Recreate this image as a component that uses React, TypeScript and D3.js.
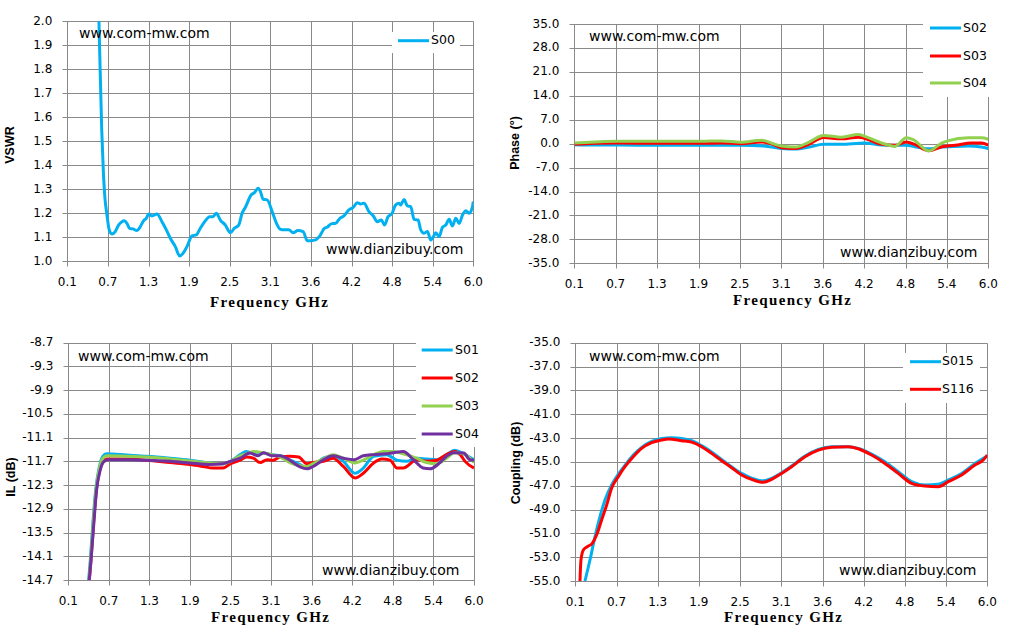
import { useRef, useEffect } from "react";
import * as d3 from "d3";

// x axis is shared by all four panels (10 equal steps from 0.1 to 6.0 GHz)
const freqTickLabels = ["0.1", "0.7", "1.3", "1.9", "2.5", "3.1", "3.6", "4.2", "4.8", "5.4", "6.0"];

const vswrTicks = [1.0, 1.1, 1.2, 1.3, 1.4, 1.5, 1.6, 1.7, 1.8, 1.9, 2.0];
const phaseTicks = [-35, -28, -21, -14, -7, 0, 7, 14, 21, 28, 35];
const ilTicks = [-14.7, -14.1, -13.5, -12.9, -12.3, -11.7, -11.1, -10.5, -9.9, -9.3, -8.7];
const couplingTicks = [-55, -53, -51, -49, -47, -45, -43, -41, -39, -37, -35];

// [frequency GHz, value]
const vswrS00 = [
  [0.55, 2.12], [0.56, 2.0], [0.6, 1.55], [0.623, 1.38], [0.648, 1.26], [0.673, 1.2], [0.71, 1.13], [0.749, 1.114],
  [0.797, 1.124], [0.845, 1.151], [0.894, 1.165], [0.928, 1.169], [0.967, 1.158], [1.005, 1.137], [1.054, 1.135],
  [1.112, 1.128], [1.16, 1.144], [1.209, 1.169], [1.248, 1.179], [1.282, 1.197], [1.33, 1.189], [1.403, 1.197],
  [1.476, 1.165], [1.539, 1.131], [1.597, 1.096], [1.67, 1.061], [1.733, 1.022], [1.781, 1.033], [1.839, 1.061],
  [1.912, 1.106], [1.975, 1.11], [2.033, 1.138], [2.106, 1.169], [2.169, 1.186], [2.217, 1.186], [2.266, 1.2],
  [2.324, 1.172], [2.397, 1.151], [2.47, 1.119], [2.528, 1.138], [2.591, 1.151], [2.64, 1.2], [2.688, 1.225],
  [2.771, 1.276], [2.819, 1.286], [2.873, 1.304], [2.907, 1.29], [2.946, 1.258], [3.004, 1.256], [3.077, 1.207],
  [3.14, 1.158], [3.198, 1.133], [3.246, 1.131], [3.319, 1.131], [3.382, 1.119], [3.45, 1.128], [3.528, 1.124],
  [3.586, 1.086], [3.644, 1.086], [3.707, 1.089], [3.77, 1.106], [3.838, 1.138], [3.877, 1.142], [3.935, 1.156],
  [3.998, 1.158], [4.061, 1.179], [4.119, 1.189], [4.192, 1.214], [4.255, 1.225], [4.314, 1.244], [4.362, 1.239],
  [4.411, 1.242], [4.484, 1.207], [4.547, 1.189], [4.605, 1.165], [4.663, 1.172], [4.712, 1.151], [4.761, 1.186],
  [4.814, 1.197], [4.872, 1.235], [4.921, 1.242], [4.945, 1.235], [4.994, 1.258], [5.042, 1.231], [5.091, 1.228],
  [5.139, 1.175], [5.198, 1.172], [5.236, 1.131], [5.285, 1.117], [5.333, 1.124], [5.382, 1.089], [5.421, 1.103],
  [5.455, 1.119], [5.503, 1.103], [5.552, 1.142], [5.6, 1.151], [5.649, 1.175], [5.697, 1.147], [5.746, 1.179],
  [5.794, 1.158], [5.843, 1.193], [5.892, 1.211], [5.94, 1.2], [5.988, 1.228], [6.0, 1.249],
];

const phaseS02 = [
  [0.1, -0.3], [0.4, -0.4], [0.7, -0.4], [1.3, -0.5], [1.9, -0.5], [2.47, -0.5], [2.8, -0.7], [3.05, -1.4],
  [3.25, -1.6], [3.45, -1.0], [3.65, -0.2], [3.9, -0.2], [4.23, 0.2], [4.48, -0.4], [4.67, -0.5], [4.83, -0.5],
  [4.95, -0.9], [5.15, -1.5], [5.34, -1.0], [5.52, -0.8], [5.72, -0.7], [5.9, -1.0], [6.0, -1.4],
];
const phaseS03 = [
  [0.1, -0.2], [0.4, 0.1], [0.7, 0.2], [1.3, 0.1], [1.9, 0.1], [2.2, 0.2], [2.47, 0.0], [2.77, 0.5], [2.96, -0.4],
  [3.05, -1.2], [3.25, -1.4], [3.44, -0.2], [3.65, 1.8], [3.91, 1.4], [4.15, 1.9], [4.23, 1.6], [4.48, -0.2],
  [4.67, -0.5], [4.83, 0.5], [4.95, -0.2], [5.15, -2.1], [5.34, -0.9], [5.53, -0.5], [5.76, 0.2], [5.9, 0.2], [6.0, -0.4],
];
const phaseS04 = [
  [0.1, 0.2], [0.4, 0.5], [0.7, 0.7], [1.3, 0.7], [1.9, 0.7], [2.2, 0.8], [2.47, 0.4], [2.77, 1.0], [2.96, -0.2],
  [3.05, -0.7], [3.25, -1.0], [3.44, 0.4], [3.65, 2.4], [3.91, 1.9], [4.15, 2.7], [4.23, 2.2], [4.48, 0.2],
  [4.67, -0.8], [4.83, 1.7], [4.93, 1.2], [5.15, -2.1], [5.34, 0.2], [5.42, 0.8], [5.72, 1.7], [5.9, 1.7], [6.0, 1.3],
];

const ilS01 = [
  [0.38, -15.0], [0.42, -14.2], [0.46, -13.2], [0.5, -12.4], [0.55, -11.85], [0.6, -11.58], [0.657, -11.51],
  [0.95, -11.54], [1.24, -11.57], [1.58, -11.62], [1.87, -11.67], [2.16, -11.74], [2.35, -11.76], [2.46, -11.7],
  [2.6, -11.53], [2.69, -11.45], [2.84, -11.53], [2.94, -11.49], [3.06, -11.53], [3.18, -11.56], [3.32, -11.66],
  [3.47, -11.78], [3.57, -11.87], [3.66, -11.81], [3.81, -11.62], [3.95, -11.56], [4.1, -11.7], [4.27, -12.0],
  [4.39, -11.87], [4.54, -11.57], [4.73, -11.53], [4.88, -11.67], [5.02, -11.7], [5.17, -11.62], [5.31, -11.64],
  [5.46, -11.66], [5.6, -11.53], [5.72, -11.42], [5.85, -11.51], [6.0, -11.66],
];
const ilS02 = [
  [0.39, -15.0], [0.43, -14.2], [0.47, -13.2], [0.51, -12.4], [0.56, -11.9], [0.61, -11.7], [0.66, -11.64],
  [0.95, -11.64], [1.24, -11.67], [1.58, -11.73], [1.87, -11.78], [2.06, -11.83], [2.2, -11.87], [2.35, -11.87],
  [2.46, -11.76], [2.6, -11.67], [2.69, -11.59], [2.79, -11.62], [2.89, -11.73], [2.99, -11.66], [3.08, -11.67],
  [3.18, -11.59], [3.32, -11.57], [3.45, -11.59], [3.57, -11.76], [3.66, -11.73], [3.81, -11.7], [3.95, -11.62],
  [4.1, -11.83], [4.27, -12.12], [4.39, -12.0], [4.54, -11.74], [4.66, -11.64], [4.78, -11.67], [4.88, -11.87],
  [4.97, -11.87], [5.17, -11.66], [5.31, -11.7], [5.46, -11.67], [5.6, -11.53], [5.72, -11.45], [5.8, -11.53],
  [5.87, -11.7], [6.0, -11.87],
];
const ilS03 = [
  [0.385, -15.0], [0.425, -14.2], [0.465, -13.2], [0.505, -12.4], [0.555, -11.85], [0.605, -11.62], [0.66, -11.56],
  [0.95, -11.57], [1.24, -11.59], [1.58, -11.64], [1.87, -11.69], [2.16, -11.74], [2.35, -11.76], [2.46, -11.7],
  [2.6, -11.56], [2.69, -11.51], [2.79, -11.45], [2.94, -11.49], [3.06, -11.53], [3.18, -11.59], [3.32, -11.73],
  [3.47, -11.81], [3.57, -11.83], [3.66, -11.76], [3.81, -11.64], [3.95, -11.53], [4.1, -11.62], [4.27, -11.74],
  [4.39, -11.67], [4.54, -11.53], [4.68, -11.45], [4.83, -11.45], [4.97, -11.51], [5.17, -11.62], [5.31, -11.73],
  [5.46, -11.76], [5.6, -11.62], [5.72, -11.48], [5.85, -11.51], [6.0, -11.73],
];
const ilS04 = [
  [0.39, -15.0], [0.43, -14.2], [0.47, -13.3], [0.513, -12.4], [0.56, -11.95], [0.61, -11.72], [0.68, -11.66],
  [0.95, -11.66], [1.24, -11.67], [1.58, -11.7], [1.87, -11.74], [2.16, -11.78], [2.35, -11.76], [2.46, -11.7],
  [2.6, -11.62], [2.74, -11.49], [2.86, -11.56], [2.94, -11.48], [3.06, -11.56], [3.18, -11.56], [3.32, -11.67],
  [3.47, -11.84], [3.57, -11.89], [3.66, -11.83], [3.81, -11.66], [3.95, -11.56], [4.1, -11.62], [4.25, -11.66],
  [4.39, -11.56], [4.54, -11.53], [4.71, -11.51], [4.83, -11.48], [4.97, -11.45], [5.12, -11.66], [5.26, -11.87],
  [5.36, -11.89], [5.5, -11.74], [5.6, -11.57], [5.7, -11.48], [5.85, -11.49], [5.94, -11.66], [6.0, -11.67],
];

const couplingS015 = [
  [0.238, -55.0], [0.31, -53.24], [0.382, -51.28], [0.453, -49.6], [0.525, -48.2], [0.62, -46.94], [0.716, -46.02],
  [0.811, -45.29], [0.93, -44.43], [1.05, -43.78], [1.193, -43.28], [1.336, -43.03], [1.479, -42.97], [1.623, -43.03],
  [1.766, -43.22], [1.909, -43.64], [2.052, -44.17], [2.195, -44.79], [2.338, -45.41], [2.482, -45.97], [2.625, -46.36],
  [2.792, -46.58], [2.911, -46.38], [3.054, -45.91], [3.198, -45.35], [3.389, -44.51], [3.58, -43.95], [3.771, -43.73],
  [4.009, -43.73], [4.152, -43.87], [4.343, -44.34], [4.534, -44.99], [4.725, -45.83], [4.916, -46.66], [5.107, -46.94],
  [5.298, -46.89], [5.441, -46.52], [5.632, -45.97], [5.823, -45.13], [6.0, -44.51],
];
const couplingS116 = [
  [0.167, -55.0], [0.181, -53.24], [0.215, -52.4], [0.277, -52.1], [0.343, -51.84], [0.405, -51.14], [0.477, -49.88],
  [0.549, -48.62], [0.62, -47.22], [0.716, -46.24], [0.811, -45.41], [0.93, -44.57], [1.05, -43.87], [1.193, -43.39],
  [1.336, -43.17], [1.432, -43.08], [1.623, -43.22], [1.766, -43.34], [1.909, -43.73], [2.052, -44.29], [2.195, -44.9],
  [2.338, -45.49], [2.482, -46.1], [2.625, -46.47], [2.792, -46.72], [2.911, -46.47], [3.054, -45.97], [3.198, -45.41],
  [3.389, -44.57], [3.58, -44.01], [3.771, -43.78], [4.009, -43.73], [4.152, -43.9], [4.343, -44.43], [4.534, -45.13],
  [4.725, -45.97], [4.916, -46.8], [5.107, -47.03], [5.298, -47.08], [5.441, -46.66], [5.632, -46.1], [5.823, -45.27],
  [5.942, -44.85], [6.0, -44.43],
];

const BLUE = "#00b0f0";
const RED = "#ff0000";
const GREEN = "#92d050";
const PURPLE = "#7030a0";
const GRID = "#8a8a8a";
const TICK_FONT = "'DejaVu Sans', Verdana, sans-serif";

const panels = [
  {
    left: 67.3, right: 473.3, top: 21.3, bottom: 261.3,
    yTicks: vswrTicks, yTitle: "VSWR", yTitleX: 11, yTitleY: 145, xTitleX: 269, xTitleY: 304,
    series: [{ name: "S00", color: BLUE, data: vswrS00 }],
    legend: { x0: 392, x1: 460, y0: 32, y1: 53, lineX: 398, textX: 431, rows: [40.7] },
    wm1: [79, 34], wm2: [326, 250],
  },
  {
    left: 574.3, right: 988.3, top: 24, bottom: 263.3,
    yTicks: phaseTicks, yTitle: "Phase (°)", yTitleX: 516, yTitleY: 143, xTitleX: 792, xTitleY: 302,
    series: [
      { name: "S02", color: BLUE, data: phaseS02 },
      { name: "S03", color: RED, data: phaseS03 },
      { name: "S04", color: GREEN, data: phaseS04 },
    ],
    legend: { x0: 923, x1: 1012, y0: 10, y1: 97, lineX: 930, textX: 963, rows: [28, 56, 83] },
    wm1: [589, 37], wm2: [840, 253],
  },
  {
    left: 68.3, right: 474, top: 342.7, bottom: 580,
    yTicks: ilTicks, yTitle: "IL (dB)", yTitleX: 12, yTitleY: 477, xTitleX: 270, xTitleY: 619,
    series: [
      { name: "S01", color: BLUE, data: ilS01 },
      { name: "S02", color: RED, data: ilS02 },
      { name: "S03", color: GREEN, data: ilS03 },
      { name: "S04", color: PURPLE, data: ilS04 },
    ],
    legend: { x0: 416, x1: 492, y0: 335, y1: 447, lineX: 421.7, textX: 455, rows: [350, 378, 406, 434] },
    wm1: [78, 357], wm2: [322, 571],
  },
  {
    left: 575.3, right: 987.3, top: 342.7, bottom: 581,
    yTicks: couplingTicks, yTitle: "Coupling (dB)", yTitleX: 517, yTitleY: 463, xTitleX: 783, xTitleY: 619,
    series: [
      { name: "S015", color: BLUE, data: couplingS015 },
      { name: "S116", color: RED, data: couplingS116 },
    ],
    legend: { x0: 903, x1: 980, y0: 353, y1: 403, lineX: 910, textX: 942, rows: [361.7, 389.3] },
    wm1: [589, 357], wm2: [839, 571],
  },
];

export default function App() {
  const svgRef = useRef(null);

  useEffect(() => {
    const svg = d3.select(svgRef.current);
    svg.selectAll("*").remove();

    panels.forEach((p, idx) => {
      const g = svg.append("g");
      const x = d3.scaleLinear().domain([0.1, 6.0]).range([p.left, p.right]);
      const xt = d3.scalePoint().domain(freqTickLabels).range([p.left, p.right]);
      const y = d3.scaleLinear()
        .domain([p.yTicks[0], p.yTicks[p.yTicks.length - 1]])
        .range([p.bottom, p.top]);
      const snap = (v: number) => Math.round(v) + 0.5;

      // grid + tick marks
      g.selectAll("line.v").data(freqTickLabels).enter().append("line")
        .attr("x1", (d) => snap(xt(d)!)).attr("x2", (d) => snap(xt(d)!))
        .attr("y1", snap(p.top)).attr("y2", snap(p.bottom) + 5)
        .attr("stroke", GRID).attr("stroke-width", 1);
      g.selectAll("line.h").data(p.yTicks).enter().append("line")
        .attr("x1", snap(p.left) - 5).attr("x2", snap(p.right))
        .attr("y1", (d) => snap(y(d))).attr("y2", (d) => snap(y(d)))
        .attr("stroke", GRID).attr("stroke-width", 1);

      // tick labels
      g.selectAll("text.xt").data(freqTickLabels).enter().append("text")
        .attr("x", (d) => xt(d)!).attr("y", p.bottom + 21)
        .attr("text-anchor", "middle").attr("dominant-baseline", "middle")
        .style("font-family", TICK_FONT).style("font-size", "12px")
        .text((d) => d);
      g.selectAll("text.yt").data(p.yTicks).enter().append("text")
        .attr("x", p.left - 15).attr("y", (d) => y(d))
        .attr("text-anchor", "end").attr("dominant-baseline", "middle")
        .style("font-family", TICK_FONT).style("font-size", "12px")
        .text((d) => d.toFixed(1));

      // axis titles
      g.append("text")
        .attr("x", p.xTitleX - 59).attr("y", p.xTitleY)
        .attr("dominant-baseline", "middle")
        .attr("textLength", 118).attr("lengthAdjust", "spacing")
        .style("font-family", "'Liberation Serif', 'Times New Roman', serif")
        .style("font-weight", "bold").style("font-size", "15px")
        .text("Frequency GHz");
      g.append("text")
        .attr("transform", `translate(${p.yTitleX},${p.yTitleY}) rotate(-90)`)
        .attr("text-anchor", "middle").attr("dominant-baseline", "middle")
        .style("font-family", "'Liberation Sans', Arial, sans-serif")
        .style("font-weight", "bold").style("font-size", "12.5px")
        .text(p.yTitle);

      // series
      const clipId = `clip-${idx}`;
      svg.append("clipPath").attr("id", clipId).append("rect")
        .attr("x", p.left).attr("y", p.top)
        .attr("width", p.right - p.left).attr("height", p.bottom - p.top);
      const line = d3.line<number[]>()
        .x((d) => x(d[0])).y((d) => y(d[1]))
        .curve(d3.curveMonotoneX);
      const lines = g.append("g").attr("clip-path", `url(#${clipId})`);
      p.series.forEach((s) => {
        lines.append("path")
          .attr("d", line(s.data))
          .attr("fill", "none").attr("stroke", s.color)
          .attr("stroke-width", 3).attr("stroke-linejoin", "round");
      });

      // legend
      const L = p.legend;
      g.append("rect")
        .attr("x", L.x0).attr("y", L.y0)
        .attr("width", L.x1 - L.x0).attr("height", L.y1 - L.y0)
        .attr("fill", "#fff");
      p.series.forEach((s, i) => {
        g.append("line")
          .attr("x1", L.lineX).attr("x2", L.lineX + 31)
          .attr("y1", L.rows[i]).attr("y2", L.rows[i])
          .attr("stroke", s.color).attr("stroke-width", 3);
        g.append("text")
          .attr("x", L.textX).attr("y", L.rows[i])
          .attr("dominant-baseline", "middle")
          .style("font-family", TICK_FONT).style("font-size", "12.5px")
          .text(s.name);
      });

      // watermarks
      g.append("text")
        .attr("x", p.wm1[0]).attr("y", p.wm1[1])
        .attr("dominant-baseline", "middle")
        .style("font-family", TICK_FONT).style("font-size", "14px")
        .text("www.com-mw.com");
      g.append("text")
        .attr("x", p.wm2[0]).attr("y", p.wm2[1])
        .attr("dominant-baseline", "middle")
        .style("font-family", TICK_FONT).style("font-size", "14px")
        .text("www.dianzibuy.com");
    });
  }, []);

  return (
    <svg
      ref={svgRef}
      width={1025}
      height={644}
      style={{ position: "absolute", left: 0, top: 0, background: "#fff" }}
    />
  );
}
